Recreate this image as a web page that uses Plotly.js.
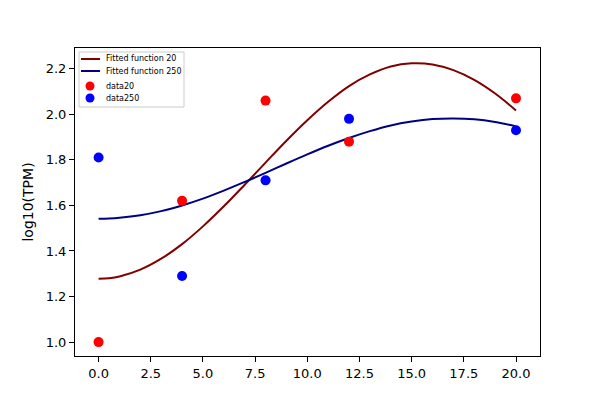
<!DOCTYPE html>
<html><head><meta charset="utf-8">
<script src="https://cdn.plot.ly/plotly-3.0.1.min.js"></script>
<style>html,body{margin:0;padding:0;background:#fff}#c{width:600px;height:400px}</style>
</head><body><div id="c"></div>
<script>
const fitX = [0,0.5,1,2,3,4,5,6,7,8,9,10,11,12,13,14,15,16,17,18,19,20];
const fit20 = [1.278,1.2805,1.288,1.318,1.366,1.430,1.508,1.596,1.691,1.788,1.884,1.974,2.055,2.124,2.175,2.210,2.224,2.219,2.194,2.151,2.091,2.017];
const fit250 = [1.542,1.543,1.546,1.557,1.575,1.600,1.630,1.665,1.703,1.743,1.784,1.824,1.862,1.896,1.926,1.951,1.968,1.979,1.982,1.978,1.966,1.947];
const dataX = [0,4,8,12,20];
const data20 = [1.00,1.62,2.06,1.88,2.07];
const data250 = [1.81,1.29,1.71,1.98,1.93];
const xTicks = [0,2.5,5,7.5,10,12.5,15,17.5,20];
const xTickText = ["0.0","2.5","5.0","7.5","10.0","12.5","15.0","17.5","20.0"];
const yTicks = [1.0,1.2,1.4,1.6,1.8,2.0,2.2];
const yTickText = ["1.0","1.2","1.4","1.6","1.8","2.0","2.2"];
const seriesNames = ["Fitted function 20","Fitted function 250","data20","data250"];
const lineColors = ["#800000","#000080"];
const markerColors = ["#ff0000","#0000ff"];

const traces = [
  {x: fitX, y: fit20, mode: 'lines', name: seriesNames[0], line: {color: lineColors[0], width: 2, shape: 'spline', smoothing: 1}},
  {x: fitX, y: fit250, mode: 'lines', name: seriesNames[1], line: {color: lineColors[1], width: 2, shape: 'spline', smoothing: 1}},
  {x: dataX, y: data20, mode: 'markers', name: seriesNames[2], marker: {color: markerColors[0], size: 10}},
  {x: dataX, y: data250, mode: 'markers', name: seriesNames[3], marker: {color: markerColors[1], size: 10}}
];

// custom compact legend (matplotlib-like), positioned in pixels -> paper coords
const M = {l: 75, r: 60, t: 48, b: 44};
const PW = 600 - M.l - M.r, PH = 400 - M.t - M.b;
const px = v => (v - M.l) / PW;
const py = v => 1 - (v - M.t) / PH;
const rowY = [59, 71, 86, 98];
const shapes = [
  {type: 'rect', xref: 'paper', yref: 'paper', x0: px(79), x1: px(184), y0: py(52), y1: py(107),
   line: {color: '#cccccc', width: 1}, fillcolor: 'rgba(255,255,255,0.8)'},
  {type: 'line', xref: 'paper', yref: 'paper', x0: px(81), x1: px(100), y0: py(rowY[0]), y1: py(rowY[0]), line: {color: lineColors[0], width: 2}},
  {type: 'line', xref: 'paper', yref: 'paper', x0: px(81), x1: px(100), y0: py(rowY[1]), y1: py(rowY[1]), line: {color: lineColors[1], width: 2}},
  {type: 'circle', xref: 'paper', yref: 'paper', x0: px(85.5), x1: px(94.5), y0: py(rowY[2] - 4.5), y1: py(rowY[2] + 4.5), line: {width: 0}, fillcolor: markerColors[0]},
  {type: 'circle', xref: 'paper', yref: 'paper', x0: px(85.5), x1: px(94.5), y0: py(rowY[3] - 4.5), y1: py(rowY[3] + 4.5), line: {width: 0}, fillcolor: markerColors[1]}
];
const annotations = seriesNames.map((n, i) => ({
  text: n, xref: 'paper', yref: 'paper', x: px(104), y: py(rowY[i]), xanchor: 'left', yanchor: 'middle',
  showarrow: false, font: {family: 'DejaVu Sans', size: 8, color: '#000'}
}));

const axisCommon = {showgrid: false, zeroline: false, showline: true, linecolor: '#000', linewidth: 1, mirror: true,
  ticks: 'outside', ticklen: 5, tickwidth: 1, tickcolor: '#000',
  tickfont: {family: 'DejaVu Sans', size: 13, color: '#000'}};
const layout = {
  width: 600, height: 400,
  margin: M,
  paper_bgcolor: '#fff', plot_bgcolor: '#fff',
  showlegend: false,
  shapes: shapes,
  annotations: annotations,
  xaxis: Object.assign({}, axisCommon, {range: [-1.13, 21.15], tickvals: xTicks, ticktext: xTickText}),
  yaxis: Object.assign({}, axisCommon, {range: [0.939, 2.291], tickvals: yTicks, ticktext: yTickText,
    title: {text: 'log10(TPM)', font: {family: 'DejaVu Sans', size: 14, color: '#000'}, standoff: 8}})
};
Plotly.newPlot('c', traces, layout, {staticPlot: true, displayModeBar: false});
</script></body></html>
